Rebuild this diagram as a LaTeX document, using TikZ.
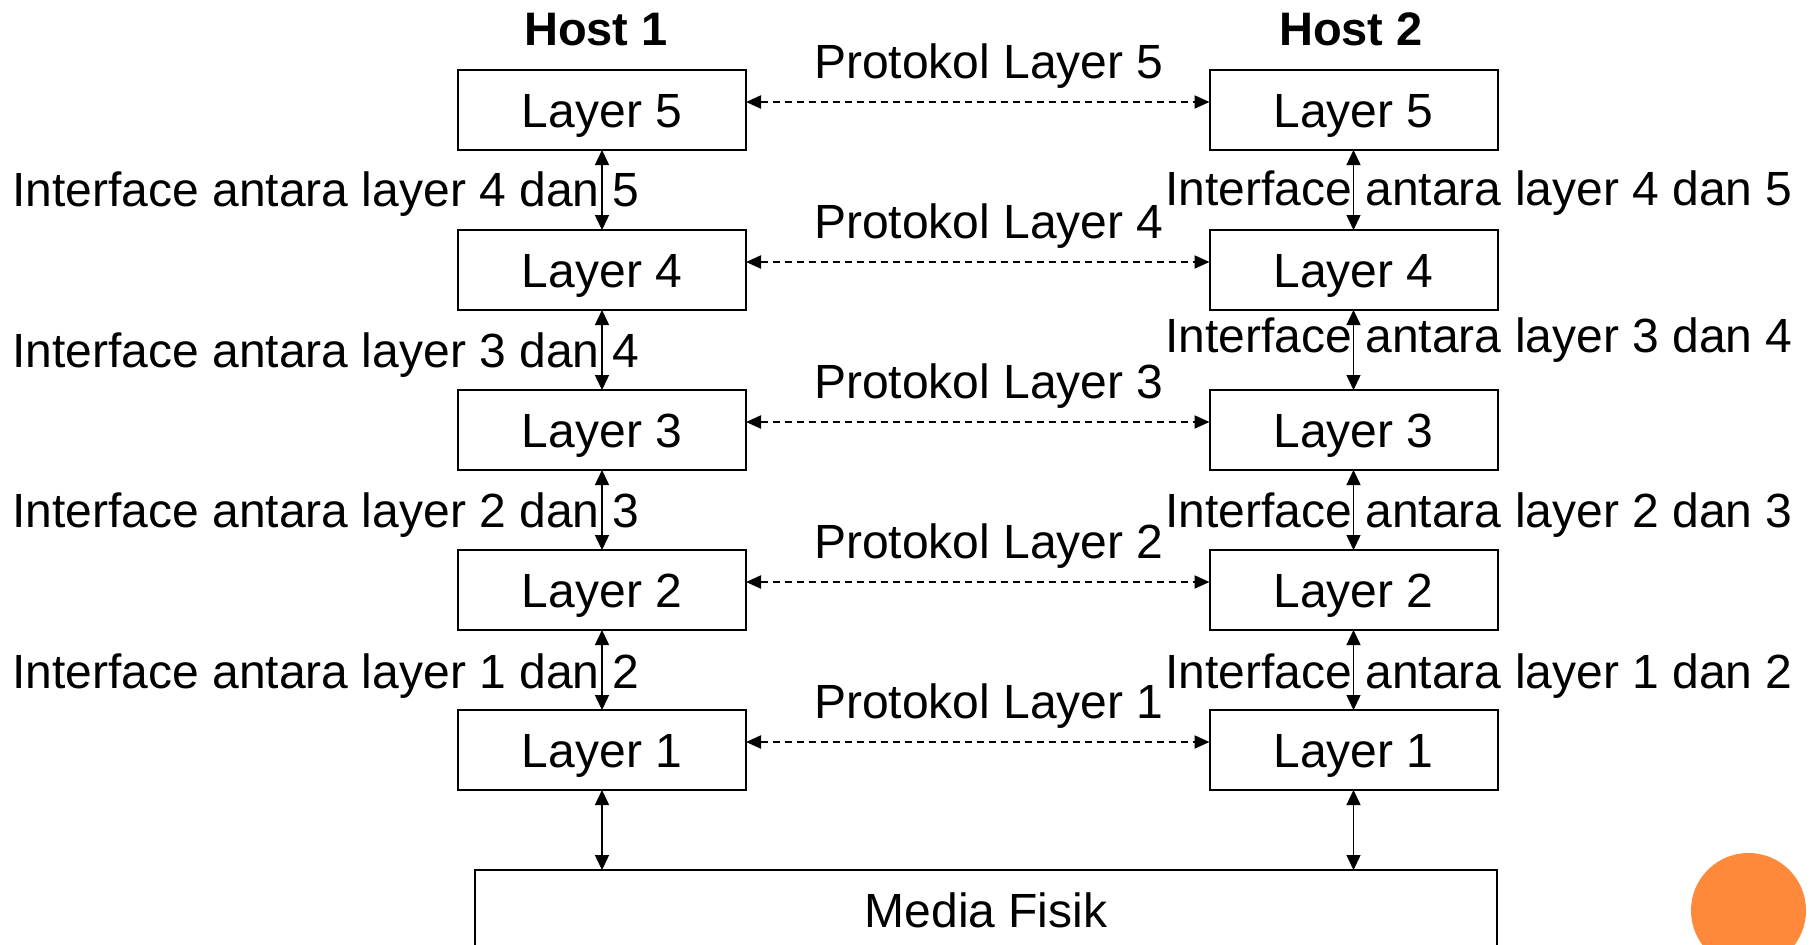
\documentclass[tikz,border=0pt]{standalone}
\usepackage{fontspec}
\setmainfont{Liberation Sans}
\usetikzlibrary{arrows.meta}
\definecolor{dotorange}{RGB}{255,137,58}
\begin{document}
\begin{tikzpicture}[x=1pt,y=-1pt,
  every node/.style={font=\fontsize{48}{57}\selectfont, inner sep=0pt, outer sep=0pt},
  layerbox/.style={draw, line width=2pt, minimum width=288pt, minimum height=80pt, text height=34pt, text depth=0pt},
  mediabox/.style={draw, line width=2pt, minimum width=1022pt, minimum height=80pt, text height=34pt, text depth=0pt},
  iface/.style={{Triangle[length=15pt,width=14pt]}-{Triangle[length=15pt,width=14pt]}, line width=1.5pt},
  proto/.style={{Triangle[length=15pt,width=13pt]}-{Triangle[length=15pt,width=13pt]}, line width=2pt, dash pattern=on 7pt off 5pt},
  lbl/.style={anchor=base west},
  plbl/.style={anchor=base},
  hostlbl/.style={anchor=base, font=\fontsize{47}{57}\selectfont\bfseries}]
\useasboundingbox (0,0) rectangle (1810,945);

% Hosts
\node[hostlbl] (h1) at (596,45) {Host 1};
\node[hostlbl] (h2) at (1351,45) {Host 2};

% Layer boxes
\node[layerbox] (a5) at (602,110) {Layer 5};
\node[layerbox] (a4) at (602,270) {Layer 4};
\node[layerbox] (a3) at (602,430) {Layer 3};
\node[layerbox] (a2) at (602,590) {Layer 2};
\node[layerbox] (a1) at (602,750) {Layer 1};
\node[layerbox] (b5) at (1353.5,110) {Layer 5};
\node[layerbox] (b4) at (1353.5,270) {Layer 4};
\node[layerbox] (b3) at (1353.5,430) {Layer 3};
\node[layerbox] (b2) at (1353.5,590) {Layer 2};
\node[layerbox] (b1) at (1353.5,750) {Layer 1};
\node[mediabox] (media) at (986,910) {Media Fisik};

% Vertical interface arrows
\draw[iface] (a5.south) -- (a4.north);
\draw[iface] (a4.south) -- (a3.north);
\draw[iface] (a3.south) -- (a2.north);
\draw[iface] (a2.south) -- (a1.north);
\draw[iface] (a1.south) -- (a1.south |- media.north);
\draw[iface] (b5.south) -- (b4.north);
\draw[iface] (b4.south) -- (b3.north);
\draw[iface] (b3.south) -- (b2.north);
\draw[iface] (b2.south) -- (b1.north);
\draw[iface] (b1.south) -- (b1.south |- media.north);

% Protocol arrows
\draw[proto] ([yshift=8pt]a5.east) -- ([yshift=8pt]b5.west);
\draw[proto] ([yshift=8pt]a4.east) -- ([yshift=8pt]b4.west);
\draw[proto] ([yshift=8pt]a3.east) -- ([yshift=8pt]b3.west);
\draw[proto] ([yshift=8pt]a2.east) -- ([yshift=8pt]b2.west);
\draw[proto] ([yshift=8pt]a1.east) -- ([yshift=8pt]b1.west);

% Protocol labels
\node[plbl] (p5) at (989,78) {Protokol Layer 5};
\node[plbl] (p4) at (989,238) {Protokol Layer 4};
\node[plbl] (p3) at (989,398) {Protokol Layer 3};
\node[plbl] (p2) at (989,558) {Protokol Layer 2};
\node[plbl] (p1) at (989,718) {Protokol Layer 1};

% Interface labels left
\node[lbl] (il45) at (12.5,206) {Interface antara layer 4 dan 5};
\node[lbl] (il34) at (12.5,367) {Interface antara layer 3 dan 4};
\node[lbl] (il23) at (12.5,527) {Interface antara layer 2 dan 3};
\node[lbl] (il12) at (12.5,688) {Interface antara layer 1 dan 2};
% Interface labels right
\node[lbl] (ir45) at (1165.5,205) {Interface antara layer 4 dan 5};
\node[lbl] (ir34) at (1165.5,352) {Interface antara layer 3 dan 4};
\node[lbl] (ir23) at (1165.5,527) {Interface antara layer 2 dan 3};
\node[lbl] (ir12) at (1165.5,688) {Interface antara layer 1 dan 2};

% Decorative circle
\fill[dotorange] (1748.5,910.5) circle (57.5);
\end{tikzpicture}
\end{document}
